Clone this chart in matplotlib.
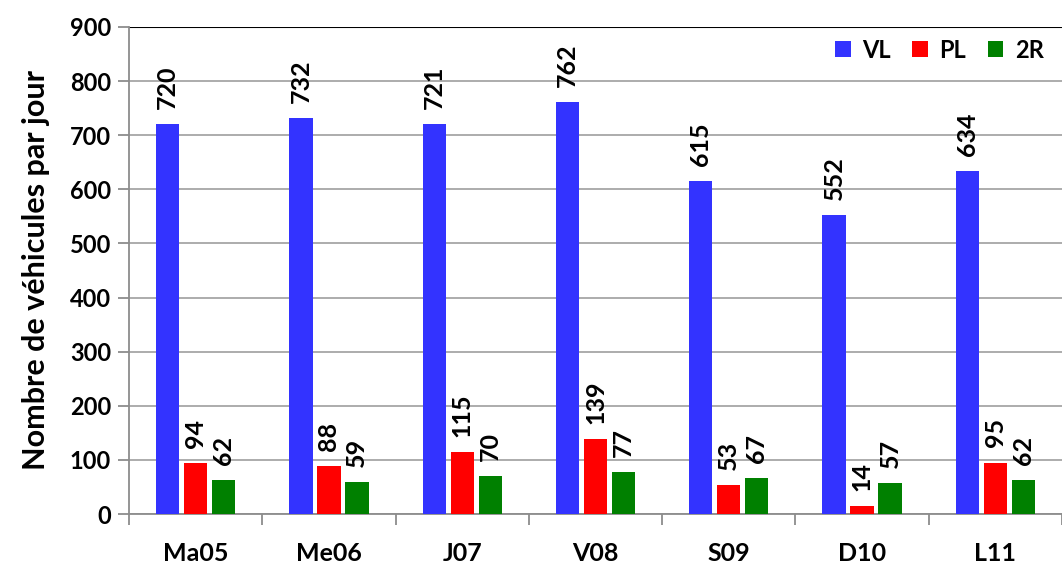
import matplotlib
matplotlib.use("Agg")
import matplotlib.pyplot as plt
import numpy as np

days = ["Ma05", "Me06", "J07", "V08", "S09", "D10", "L11"]
vl = [720, 732, 721, 762, 615, 552, 634]
pl = [94, 88, 115, 139, 53, 14, 95]
r2 = [62, 59, 70, 77, 67, 57, 62]
series = [("VL", vl, "#3333ff"), ("PL", pl, "#ff0000"), ("2R", r2, "#008000")]

plt.rcParams["font.family"] = ["Lato", "DejaVu Sans"]
plt.rcParams["font.weight"] = "bold"

fig = plt.figure(figsize=(10.62, 5.69), dpi=100)
ax = fig.add_axes([129 / 1062, 1 - 514 / 569, 933 / 1062, 487 / 569])

x = np.arange(len(days))
width = 0.175
offsets = [-0.21, 0.0, 0.21]
for (name, vals, color), off in zip(series, offsets):
    bars = ax.bar(x + off, vals, width, color=color, label=name, zorder=3)
    for b, v in zip(bars, vals):
        ax.text(b.get_x() + b.get_width() / 2, v + 28, str(v), rotation=90,
                ha="center", va="bottom", fontsize=18, fontweight="bold")

ax.set_xlim(-0.5, len(days) - 0.5)
ax.set_ylim(0, 900)
ax.set_yticks(range(0, 901, 100))
ax.yaxis.grid(True, color="#a6a6a6", linewidth=1.3, zorder=0)
ax.set_axisbelow(True)
ax.axhline(900, color="black", linewidth=1.5, zorder=2)

ax.set_xticks(x)
ax.set_xticklabels(days, fontsize=18, fontweight="bold")
ax.set_xticks(np.arange(len(days) + 1) - 0.5, minor=True)
ax.tick_params(axis="x", which="major", length=0, pad=20)
ax.tick_params(axis="x", which="minor", length=8, width=1.3, color="#8c8c8c")
ax.tick_params(axis="y", length=8, width=1.3, color="#8c8c8c", labelsize=17, pad=5)
for lab in ax.get_yticklabels():
    lab.set_fontweight("bold")

for side in ("top", "right"):
    ax.spines[side].set_visible(False)
for side in ("left", "bottom"):
    ax.spines[side].set_color("#8c8c8c")
    ax.spines[side].set_linewidth(1.3)

ax.set_ylabel("Nombre de véhicules par jour", fontsize=22, fontweight="bold", labelpad=14)

ax.legend(loc="upper right", ncol=3, frameon=False, fontsize=17, handlelength=0.65,
          handleheight=0.65, handletextpad=0.5, columnspacing=0.9,
          bbox_to_anchor=(1.003, 1.02))

fig.savefig("out.png", dpi=100)
